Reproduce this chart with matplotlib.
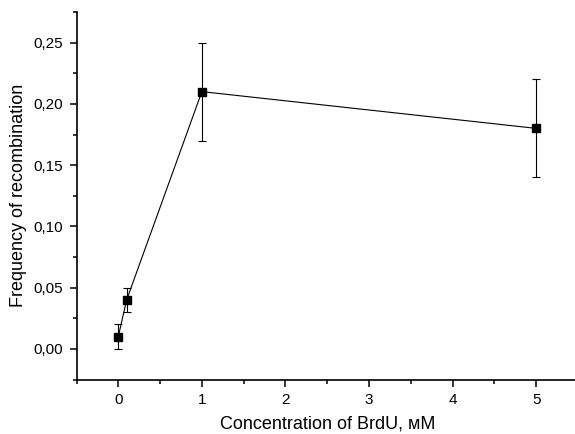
import matplotlib
matplotlib.use("Agg")
import matplotlib.pyplot as plt
from matplotlib.ticker import FuncFormatter, MultipleLocator

plt.rcParams['font.family'] = ['Liberation Sans', 'DejaVu Sans']

conc = [0, 0.1, 1, 5]
freq = [0.01, 0.04, 0.21, 0.18]
err = [0.01, 0.01, 0.04, 0.04]

fig = plt.figure(figsize=(5.75, 4.34), dpi=100)
ax = fig.add_axes([76.5/575, 1-379.5/434, (578-76.5)/575, (379.5-12)/434])
ax.errorbar(conc, freq, yerr=err, color='black', lw=0.8, marker='s', ms=5.7,
            mfc='black', mec='black', capsize=3, elinewidth=0.8, capthick=0.8)
ax.set_xlim(-0.5, 5.5)
ax.set_ylim(-0.025, 0.275)
ax.xaxis.set_major_locator(MultipleLocator(1))
ax.xaxis.set_minor_locator(MultipleLocator(0.5))
ax.yaxis.set_major_locator(MultipleLocator(0.05))
ax.yaxis.set_minor_locator(MultipleLocator(0.025))
ax.yaxis.set_major_formatter(FuncFormatter(lambda v, p: f"{v:.2f}".replace('.', ',')))
ax.xaxis.set_major_formatter(FuncFormatter(lambda v, p: f"{v:.0f}"))
for s in ['top', 'right']:
    ax.spines[s].set_visible(False)
for s in ['left', 'bottom']:
    ax.spines[s].set_linewidth(1.2)
ax.tick_params(which='major', direction='out', length=5, width=1.1, labelsize=11, pad=4.5)
ax.tick_params(which='minor', direction='out', length=3, width=1.1)
ax.set_xlabel('Concentration of BrdU, мМ', fontsize=13, labelpad=6)
ax.set_ylabel('Frequency of recombination', fontsize=13, labelpad=5)
fig.savefig('out.png', dpi=100)
